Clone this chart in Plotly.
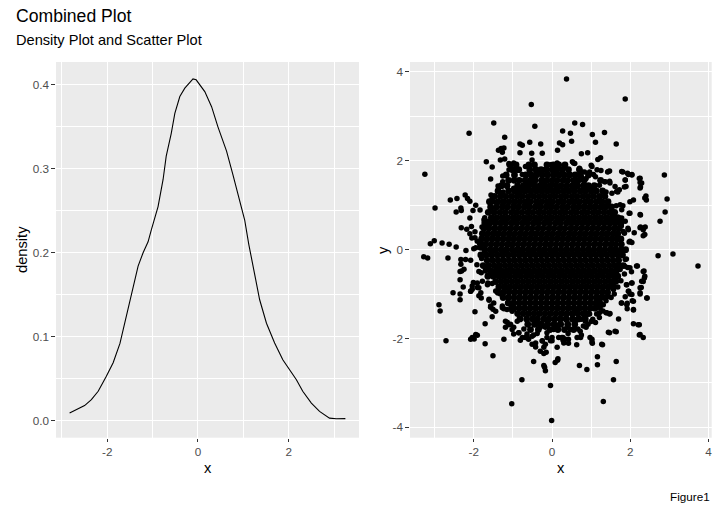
import plotly.graph_objects as go
from plotly.subplots import make_subplots

# density curve
dens_x = [-2.83, -2.68, -2.50, -2.35, -2.20, -2.02, -1.87, -1.72, -1.58, -1.43,
          -1.32, -1.21, -1.10, -1.03, -0.88, -0.77, -0.70, -0.59, -0.51, -0.40,
          -0.29, -0.11, -0.04, 0.15, 0.30, 0.44, 0.63, 0.77, 0.92, 1.03,
          1.12, 1.21, 1.36, 1.51, 1.69, 1.87, 2.02, 2.17, 2.31, 2.50,
          2.68, 2.90, 3.05, 3.25]
dens_y = [0.009, 0.013, 0.018, 0.025, 0.035, 0.053, 0.069, 0.092, 0.124, 0.156,
          0.184, 0.200, 0.213, 0.227, 0.255, 0.287, 0.315, 0.342, 0.366, 0.386,
          0.396, 0.407, 0.406, 0.392, 0.374, 0.350, 0.321, 0.293, 0.263, 0.239,
          0.210, 0.184, 0.144, 0.116, 0.0925, 0.0726, 0.0607, 0.0488, 0.035, 0.021,
          0.011, 0.003, 0.0022, 0.0024]

# scatter, dense middle of the cloud: (y, x values along that band)
core_rows = [
    (1.91, [-0.92, -0.59, -0.45, -0.13, 0.03, 0.17, 0.33]),
    (1.80, [-1.01, -0.85, -0.57, -0.41, -0.28, -0.15, 0.00, 0.12, 0.26, 0.42, 0.70]),
    (1.68, [-1.17, -0.96, -0.67, -0.53, -0.40, -0.25, -0.11, 0.04, 0.18, 0.31, 0.45, 0.59, 0.72, 0.93]),
    (1.56, [-1.11, -0.97, -0.84, -0.69, -0.55, -0.43, -0.27, -0.14, 0.00, 0.13, 0.28, 0.40, 0.55, 0.67, 0.82, 1.24]),
    (1.44, [-1.29, -1.15, -0.88, -0.73, -0.61, -0.46, -0.31, -0.18, -0.05, 0.10, 0.23, 0.38, 0.52, 0.65, 0.80, 0.93, 1.08]),
    (1.32, [-1.38, -1.11, -0.96, -0.82, -0.69, -0.54, -0.40, -0.26, -0.12, 0.02, 0.15, 0.30, 0.43, 0.57, 0.72, 0.85, 1.00, 1.13, 1.29]),
    (1.20, [-1.47, -1.32, -1.18, -1.03, -0.89, -0.76, -0.61, -0.47, -0.33, -0.19, -0.05, 0.08, 0.23, 0.36, 0.51, 0.64, 0.79, 0.92, 1.06, 1.21, 1.35]),
    (1.08, [-1.60, -1.38, -1.24, -1.10, -0.96, -0.82, -0.68, -0.55, -0.40, -0.26, -0.12, 0.01, 0.16, 0.29, 0.44, 0.57, 0.71, 0.86, 0.99, 1.14, 1.27, 1.43]),
    (0.96, [-1.57, -1.42, -1.27, -1.14, -0.99, -0.86, -0.71, -0.58, -0.43, -0.30, -0.15, -0.02, 0.12, 0.27, 0.40, 0.55, 0.68, 0.82, 0.97, 1.10, 1.25, 1.37, 1.52]),
    (0.84, [-1.63, -1.48, -1.33, -1.19, -1.04, -0.91, -0.77, -0.62, -0.49, -0.34, -0.21, -0.07, 0.07, 0.21, 0.34, 0.49, 0.62, 0.77, 0.90, 1.05, 1.18, 1.33, 1.47, 1.60]),
    (0.72, [-1.55, -1.41, -1.27, -1.13, -0.99, -0.85, -0.71, -0.57, -0.43, -0.29, -0.15, -0.01, 0.13, 0.27, 0.41, 0.55, 0.69, 0.83, 0.97, 1.11, 1.25, 1.39, 1.53, 1.65]),
    (0.60, [-1.72, -1.59, -1.45, -1.31, -1.18, -1.03, -0.90, -0.75, -0.62, -0.47, -0.34, -0.19, -0.06, 0.09, 0.22, 0.37, 0.50, 0.64, 0.78, 0.92, 1.06, 1.20, 1.34, 1.48, 1.61, 1.76]),
    (0.48, [-1.74, -1.61, -1.47, -1.33, -1.20, -1.06, -0.92, -0.78, -0.64, -0.51, -0.36, -0.23, -0.08, 0.05, 0.20, 0.33, 0.48, 0.61, 0.75, 0.89, 1.03, 1.17, 1.31, 1.45, 1.59, 1.71]),
    (0.36, [-1.78, -1.64, -1.50, -1.37, -1.23, -1.09, -0.95, -0.81, -0.67, -0.53, -0.40, -0.26, -0.12, 0.02, 0.16, 0.30, 0.44, 0.58, 0.72, 0.86, 1.00, 1.14, 1.28, 1.42, 1.56, 1.68]),
    (0.24, [-1.80, -1.67, -1.53, -1.39, -1.25, -1.11, -0.98, -0.84, -0.70, -0.56, -0.42, -0.28, -0.15, -0.01, 0.13, 0.27, 0.41, 0.55, 0.69, 0.83, 0.97, 1.11, 1.25, 1.39, 1.53, 1.66, 1.76]),
    (0.12, [-1.83, -1.70, -1.56, -1.42, -1.28, -1.14, -1.01, -0.87, -0.73, -0.59, -0.45, -0.31, -0.17, -0.04, 0.10, 0.24, 0.38, 0.52, 0.66, 0.80, 0.94, 1.08, 1.22, 1.36, 1.50, 1.63, 1.77]),
    (0.00, [-1.72, -1.58, -1.44, -1.30, -1.16, -1.02, -0.88, -0.75, -0.61, -0.47, -0.33, -0.19, -0.05, 0.09, 0.23, 0.37, 0.51, 0.65, 0.79, 0.93, 1.07, 1.21, 1.35, 1.49, 1.62, 1.76, 1.88]),
    (-0.12, [-1.82, -1.68, -1.54, -1.40, -1.26, -1.12, -0.98, -0.84, -0.70, -0.56, -0.42, -0.28, -0.14, 0.00, 0.14, 0.28, 0.42, 0.56, 0.70, 0.84, 0.98, 1.12, 1.26, 1.40, 1.54, 1.68, 1.80]),
    (-0.24, [-1.66, -1.52, -1.38, -1.24, -1.10, -0.96, -0.82, -0.68, -0.54, -0.40, -0.26, -0.12, 0.02, 0.16, 0.30, 0.44, 0.58, 0.72, 0.86, 1.00, 1.14, 1.28, 1.42, 1.56, 1.70]),
    (-0.36, [-1.76, -1.62, -1.48, -1.34, -1.20, -1.06, -0.92, -0.78, -0.64, -0.50, -0.36, -0.22, -0.08, 0.06, 0.20, 0.34, 0.48, 0.62, 0.76, 0.90, 1.04, 1.18, 1.32, 1.46, 1.60, 1.71, 1.82]),
    (-0.48, [-1.57, -1.43, -1.29, -1.15, -1.01, -0.87, -0.73, -0.59, -0.45, -0.31, -0.17, -0.03, 0.11, 0.25, 0.39, 0.53, 0.67, 0.81, 0.95, 1.09, 1.23, 1.37, 1.51, 1.64]),
    (-0.60, [-1.64, -1.50, -1.36, -1.22, -1.08, -0.94, -0.80, -0.66, -0.52, -0.38, -0.24, -0.10, 0.04, 0.18, 0.32, 0.46, 0.60, 0.74, 0.88, 1.02, 1.16, 1.30, 1.44, 1.58, 1.68]),
    (-0.72, [-1.44, -1.30, -1.16, -1.02, -0.88, -0.74, -0.60, -0.46, -0.32, -0.18, -0.04, 0.10, 0.24, 0.38, 0.52, 0.66, 0.80, 0.94, 1.08, 1.22, 1.36, 1.50, 1.62]),
    (-0.84, [-1.36, -1.22, -1.08, -0.94, -0.80, -0.66, -0.52, -0.38, -0.24, -0.10, 0.04, 0.18, 0.32, 0.46, 0.60, 0.74, 0.88, 1.02, 1.16, 1.30, 1.44, 1.56]),
    (-0.96, [-1.38, -1.24, -1.10, -0.96, -0.82, -0.68, -0.54, -0.40, -0.26, -0.12, 0.02, 0.16, 0.30, 0.44, 0.58, 0.72, 0.86, 1.00, 1.14, 1.28, 1.42]),
    (-1.08, [-1.25, -1.11, -0.97, -0.83, -0.69, -0.55, -0.41, -0.27, -0.13, 0.01, 0.15, 0.29, 0.43, 0.57, 0.71, 0.85, 0.99, 1.13, 1.25, 1.36]),
    (-1.20, [-1.12, -0.98, -0.84, -0.70, -0.56, -0.42, -0.28, -0.14, 0.00, 0.14, 0.28, 0.42, 0.56, 0.70, 0.84, 0.98, 1.12, 1.22]),
    (-1.32, [-0.98, -0.84, -0.70, -0.56, -0.42, -0.28, -0.14, 0.00, 0.14, 0.28, 0.42, 0.56, 0.70, 0.84, 0.98, 1.10]),
    (-1.44, [-0.88, -0.74, -0.60, -0.46, -0.32, -0.18, -0.04, 0.10, 0.24, 0.38, 0.52, 0.66, 0.80, 0.92]),
    (-1.56, [-0.82, -0.65, -0.50, -0.37, -0.21, -0.08, 0.07, 0.21, 0.36, 0.52, 0.68, 0.85]),
    (-1.68, [-0.62, -0.45, -0.28, -0.12, 0.05, 0.22, 0.40, 0.58]),
    (-1.80, [-0.55, -0.35, -0.05, 0.15, 0.32, 0.55]),
]

# scatter, looser points around the middle and the outliers
edge_points = [
    (-0.53, 3.27), (-1.49, 2.85), (-0.44, 2.78), (-2.12, 2.62), (-1.21, 2.53), (-0.82, 2.38),
    (-0.76, 2.35), (-0.57, 2.42), (-0.29, 2.38), (0.19, 2.40), (-1.37, 2.24), (-1.30, 2.28),
    (-1.23, 2.29), (-1.27, 2.19), (-0.82, 2.18), (-0.52, 2.17), (0.14, 2.24), (-1.21, 2.04),
    (-1.68, 1.98), (-1.53, 1.86), (-1.10, 1.94), (-0.98, 1.95), (-1.06, 1.89), (-1.57, 1.59),
    (-1.26, 1.66), (-1.26, 1.53), (-1.38, 1.43), (-1.25, 1.30), (-3.25, 1.70), (-2.60, 1.12),
    (-2.43, 1.15), (-2.22, 1.23), (-2.16, 1.15), (-2.10, 1.09), (-2.99, 0.94), (-2.45, 0.85),
    (-2.33, 0.94), (-2.32, 0.88), (-1.95, 1.00), (-2.02, 0.88), (-1.84, 0.89), (-2.10, 0.71),
    (-2.32, 0.49), (-2.18, 0.46), (-2.06, 0.52), (-1.97, 0.40), (-1.79, 0.51), (-1.97, 0.27),
    (-2.05, 0.26), (-2.10, 0.36), (-1.95, 0.04),
    (-3.11, 0.13), (-3.01, 0.20), (-2.81, 0.15), (-2.63, 0.12), (-2.45, 0.06), (-2.20, -0.02),
    (-2.00, 0.02), (-1.84, 0.04), (-1.72, 0.72), (-1.64, 0.64), (-1.56, 1.23), (-1.53, 1.15),
    (-1.49, 1.08), (-1.55, 0.93), (-0.98, 1.38), (-0.81, 1.39), (-0.89, 1.30), (-0.55, 1.48),
    (-0.42, 1.44), (-0.30, 1.38),
    (-1.32, 2.02), (-1.10, 1.91), (-0.68, 1.87), (-0.51, 2.02), (-0.25, 2.17), (-0.04, 1.91),
    (-1.32, 1.27), (-1.74, 0.67), (-1.65, 0.56), (-1.57, 0.64), (-1.91, 0.19), (-1.82, 0.04),
    (-1.10, 1.80), (-0.93, 1.80), (-0.76, 1.69), (-0.51, 1.61), (-0.34, 1.72), (-0.21, 1.80),
    (-0.64, 1.50), (-0.42, 1.39), (-0.21, 1.46), (0.00, 1.53),
    (0.37, 3.84), (1.87, 3.39), (0.58, 2.85), (0.78, 2.82), (0.27, 2.67), (0.47, 2.62),
    (0.50, 2.44), (1.03, 2.59), (1.34, 2.64), (1.11, 2.42), (1.64, 2.38), (0.27, 2.36),
    (0.75, 2.16), (0.91, 2.18), (1.17, 2.03), (1.24, 2.07), (2.87, 1.68), (2.94, 1.14),
    (2.89, 0.85), (2.76, 0.64), (2.23, 1.60), (2.25, 1.51), (2.26, 1.41), (2.40, 1.21),
    (2.41, 1.12), (2.26, 0.78), (2.26, 0.51), (2.38, 0.51), (2.33, 0.31), (2.10, 0.38),
    (2.04, 0.16), (1.97, 0.17), (1.81, 1.75), (1.93, 1.72), (2.04, 1.68), (1.87, 1.57),
    (1.85, 1.41), (2.08, 1.12), (1.99, 1.08), (1.97, 0.82), (1.94, 0.48), (1.85, 0.37),
    (1.77, 0.53), (1.70, 0.73), (1.74, 0.69), (1.64, 0.99), (1.81, 0.99), (1.68, 1.30),
    (1.72, 1.35), (1.42, 1.75), (1.47, 1.77), (1.34, 1.53), (1.47, 1.54), (1.11, 1.64),
    (1.15, 1.80), (1.25, 1.78), (1.00, 1.90), (0.52, 1.98), (0.58, 1.94), (0.70, 1.83),
    (0.77, 1.75), (1.38, 1.30), (1.53, 1.27), (1.21, 1.15), (1.30, 1.08), (1.42, 1.00),
    (1.51, 0.93), (1.59, 0.82), (1.68, 0.63), (0.96, 1.38), (1.08, 1.42), (1.21, 1.45),
    (0.62, 1.68), (0.75, 1.64), (0.87, 1.60), (0.83, 1.75), (0.96, 1.75),
    (0.55, 1.95), (0.13, 1.95), (0.30, 1.84), (1.02, 1.87), (1.06, 1.69), (1.44, 1.76),
    (1.36, 1.53), (1.48, 1.50), (1.61, 1.42), (1.65, 1.31), (1.78, 1.76), (1.95, 1.69),
    (2.04, 1.69), (2.25, 1.61), (2.29, 1.50), (2.25, 1.39), (1.87, 1.57), (1.89, 1.42),
    (2.37, 1.16), (1.99, 0.82), (2.25, 0.79), (1.74, 1.01), (1.78, 0.90), (1.78, 0.71),
    (1.87, 0.64), (1.74, 0.52), (1.82, 0.41), (1.95, 0.45), (1.99, 0.19), (2.25, 0.49),
    (2.33, 0.45), (2.37, 0.34),
    (-3.28, -0.16), (-3.18, -0.19), (-2.66, -0.19), (-2.89, -1.24), (-2.86, -1.38), (-2.71, -2.05),
    (-2.53, -0.97), (-2.27, -0.84), (-2.35, -0.68), (-2.35, -1.00), (-2.35, -1.13), (-2.33, -0.33),
    (-2.31, -0.48), (-2.25, -0.44), (-2.33, -0.22), (-2.21, -0.22), (-2.08, -0.24), (-2.04, -1.98),
    (-1.99, -2.01), (-1.91, -1.93), (-1.97, -1.40), (-2.08, -0.94), (-2.04, -0.89), (-2.01, -0.74),
    (-1.91, -0.85), (-1.87, -1.04), (-1.81, -1.09), (-1.71, -1.67), (-1.71, -2.12), (-1.51, -2.39),
    (-1.53, -1.51), (-1.61, -1.14), (-1.57, -1.30), (-1.51, -1.34), (-1.23, -2.02), (-1.19, -1.75),
    (-1.14, -1.64), (-1.03, -3.47), (-0.77, -2.93), (-0.47, -2.52), (-0.04, -3.06), (-0.01, -3.85),
    (-0.19, -2.65), (-0.17, -2.73), (-0.21, -2.61), (0.08, -2.54), (0.14, -2.49), (-0.30, -2.29),
    (-0.21, -2.34), (-0.15, -2.31), (-0.51, -2.13), (-0.42, -2.19), (-0.81, -2.04), (-0.68, -1.98),
    (-0.85, -1.87), (-0.98, -1.90), (-1.06, -1.68), (-0.98, -1.75), (-0.13, -1.98), (0.00, -2.05),
    (-0.25, -2.05), (-0.17, -1.75), (0.04, -1.77), (-0.47, -1.92), (-0.38, -1.89), (-2.35, -0.49),
    (-1.23, -1.33), (-1.27, -1.27), (-1.02, -1.39), (-1.06, -1.34), (-1.16, -0.85), (-1.32, -1.00),
    (-1.64, -0.75), (-1.53, -0.76), (-1.44, -0.93), (-1.81, -0.52), (-1.70, -0.48), (-1.57, -0.52),
    (-1.15, -0.59), (-0.17, -2.13), (-0.21, -2.20), (-0.04, -2.05), (0.13, -2.20), (0.17, -1.98),
    (-0.38, -1.68), (-0.30, -1.75), (-0.09, -1.68), (-0.72, -1.79), (-0.64, -1.90), (-0.60, -2.02),
    (-2.08, -0.94), (-2.04, -0.82), (-1.91, -0.75), (-1.78, -0.71), (-1.65, -0.79), (-1.87, -0.86),
    (-1.82, -0.97), (-1.61, -1.12), (-1.57, -1.27), (-1.49, -1.20), (-1.44, -1.39), (-1.27, -1.31),
    (-1.15, -1.35), (-1.06, -1.24), (-1.19, -1.61), (-1.10, -1.69), (-1.02, -1.80), (-0.89, -1.61),
    (-0.85, -1.87), (-0.76, -1.98), (-0.64, -1.95), (-1.95, -1.91), (-2.08, -2.02), (-1.87, -0.49),
    (-1.70, -0.45), (-1.53, -0.49), (-1.40, -0.41), (-1.27, -0.60), (-0.51, -1.95), (-0.42, -2.10),
    (-0.25, -2.06), (-0.13, -1.87), (-1.80, -0.20), (-1.92, -0.34),
    (2.71, -0.14), (3.09, -0.10), (3.73, -0.37), (2.18, -0.37), (2.35, -0.48), (2.36, -0.64),
    (2.33, -0.72), (2.28, -0.85), (2.25, -1.00), (2.43, -1.09), (2.03, -0.50), (1.90, -0.21),
    (1.85, -0.37), (2.04, -0.75), (1.90, -0.79), (1.96, -0.94), (1.99, -1.00), (1.87, -1.06),
    (2.05, -1.15), (1.77, -1.20), (1.92, -1.21), (1.92, -1.33), (2.08, -1.36), (1.70, -1.56),
    (2.08, -1.67), (2.23, -1.69), (2.23, -1.92), (2.33, -1.98), (1.64, -1.85), (1.47, -1.87),
    (1.29, -2.14), (1.16, -2.41), (1.16, -2.59), (1.64, -2.52), (1.57, -2.93), (1.31, -3.42),
    (0.70, -2.61), (0.89, -2.70), (0.15, -2.46), (0.63, -2.14), (0.42, -2.11), (0.42, -2.02),
    (0.28, -1.98), (0.28, -2.04), (1.02, -2.02), (1.03, -2.11), (0.73, -1.98), (0.75, -1.92),
    (0.66, -1.79), (0.87, -1.75), (0.92, -1.68), (0.41, -1.89), (0.41, -1.75), (1.47, -1.45),
    (1.38, -1.42), (1.30, -1.38), (1.11, -1.64), (1.00, -1.62), (1.21, -1.53), (1.14, -1.45),
    (0.62, -1.39), (0.58, -1.57), (0.11, -1.75), (0.19, -1.68), (0.36, -1.53), (0.62, -1.59),
    (0.75, -1.57), (0.83, -1.53), (0.96, -1.45), (1.04, -1.57), (1.17, -1.30), (1.21, -1.42),
    (1.38, -1.15), (1.51, -1.08), (1.59, -1.00), (1.68, -0.84), (1.76, -0.70), (1.85, -0.55),
    (1.93, -0.40),
    (1.87, -0.22), (1.99, -0.41), (2.16, -0.37), (2.33, -0.49), (2.37, -0.60), (1.91, -0.79),
    (2.04, -0.75), (2.29, -0.71), (2.25, -0.86), (1.95, -0.94), (2.04, -1.01), (2.25, -0.97),
    (2.42, -1.09), (1.78, -1.20), (1.91, -1.24), (2.08, -1.16), (2.08, -1.35), (1.40, -1.42),
    (1.48, -1.44), (2.20, -1.69), (2.25, -1.91), (1.44, -1.86), (1.61, -1.84), (1.27, -2.13),
    (0.97, -1.98), (1.02, -2.08), (0.72, -1.84), (0.85, -1.61), (0.80, -1.72), (0.64, -1.98),
    (0.55, -1.57), (0.47, -1.80), (0.34, -2.02), (0.30, -2.10), (0.25, -1.98), (0.04, -1.80),
    (0.00, -1.98), (1.23, -1.31), (1.31, -1.24), (1.44, -1.05), (1.57, -0.90), (1.65, -0.71),
    (1.74, -0.45),
]

left_x_ticks = [-2, 0, 2]
left_y_ticks = [0.0, 0.1, 0.2, 0.3, 0.4]
right_x_ticks = [-2, 0, 2, 4]
right_y_ticks = [-4, -2, 0, 2, 4]

core_x = [x for y, xs in core_rows for x in xs]
core_y = [y for y, xs in core_rows for x in xs]
edge_x = [p[0] for p in edge_points]
edge_y = [p[1] for p in edge_points]

FONT = "Liberation Sans, Arial, sans-serif"
W, H = 727, 510

fig = make_subplots(rows=1, cols=2)
fig.add_trace(go.Scatter(x=dens_x, y=dens_y, mode="lines",
                         line=dict(color="black", width=1.1)), row=1, col=1)
fig.add_trace(go.Scatter(x=core_x, y=core_y, mode="markers",
                         marker=dict(color="black", size=6.8)), row=1, col=2)
fig.add_trace(go.Scatter(x=edge_x, y=edge_y, mode="markers",
                         marker=dict(color="black", size=5.5)), row=1, col=2)


def axis_style(ticks, labels, minor_step, rng, domain):
    return dict(
        domain=domain, range=rng, tickmode="array", tickvals=ticks, ticktext=labels,
        ticks="outside", ticklen=3.7, tickwidth=1, tickcolor="#333333",
        tickfont=dict(family=FONT, size=11.7, color="#4D4D4D"),
        showgrid=True, gridcolor="white", gridwidth=1.1,
        minor=dict(dtick=minor_step, showgrid=True, gridcolor="white", gridwidth=0.55, ticks=""),
        zeroline=False, showline=False,
    )


y_dom = [72.3 / H, 448 / H]
fig.update_layout(
    xaxis=axis_style(left_x_ticks, [str(v) for v in left_x_ticks], 1,
                     [-3.13, 3.55], [56 / W, 359 / W]),
    yaxis=axis_style(left_y_ticks, [f"{v:.1f}" for v in left_y_ticks], 0.05,
                     [-0.0203, 0.4272], y_dom),
    xaxis2=axis_style(right_x_ticks, [str(v) for v in right_x_ticks], 1,
                      [-3.63, 4.08], [410 / W, 711.7 / W]),
    yaxis2=axis_style(right_y_ticks, [str(v) for v in right_y_ticks], 1,
                      [-4.235, 4.225], y_dom),
)

notes = [
    ("Combined Plot", 14, 15.9, 17.6, "left", 0),
    ("Density Plot and Scatter Plot", 14, 39.7, 14.6, "left", 0),
    ("x", 207.5, 468, 14.7, "center", 0),
    ("x", 560.8, 468, 14.7, "center", 0),
    ("density", 22, 250, 14.7, "center", -90),
    ("y", 383, 250, 14.7, "center", -90),
    ("Figure1", 711.7, 496.7, 11.7, "right", 0),
]
for text, px, py, size, anchor, angle in notes:
    fig.add_annotation(text=text, x=px / W, y=1 - py / H, xref="paper", yref="paper",
                       xanchor=anchor, yanchor="middle", showarrow=False, textangle=angle,
                       font=dict(family=FONT, size=size, color="black"))

fig.update_layout(
    width=W, height=H, showlegend=False,
    margin=dict(l=0, r=0, t=0, b=0),
    paper_bgcolor="white", plot_bgcolor="#EBEBEB",
    font=dict(family=FONT),
)

# the page body has a default 8px margin; drop it so the figure fills the window
fig.write_html("out.html", config={"displayModeBar": False},
               post_script="document.body.style.margin='0';")
